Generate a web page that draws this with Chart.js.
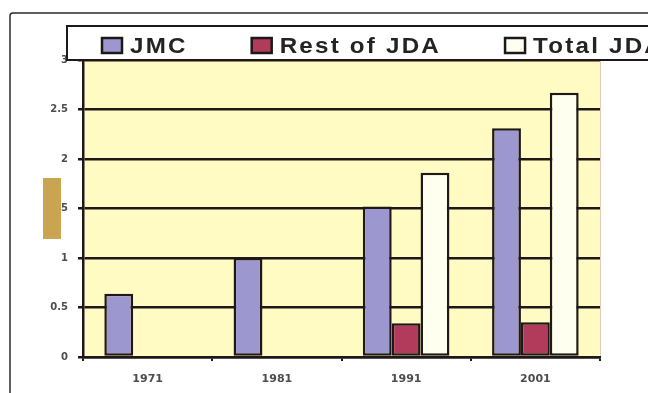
<!DOCTYPE html>
<html>
<head>
<meta charset="utf-8">
<script src="https://cdn.jsdelivr.net/npm/chart.js@4/dist/chart.umd.min.js"></script>
<style>
  html, body { margin: 0; padding: 0; background: #ffffff; }
  #wrap { width: 648px; height: 393px; position: relative; }
</style>
</head>
<body>
<div id="wrap"><canvas id="chart" width="648" height="393"></canvas></div>
<script>
// Population (millions) by census year
const years = ['1971', '1981', '1991', '2001'];
const jmc = [0.64, 1.0, 1.52, 2.31];
const restOfJda = [null, null, 0.34, 0.35];
const totalJda = [null, null, 1.86, 2.67];
const yTicks = [0, 0.5, 1, 1.5, 2, 2.5, 3];

const INK = '#1f1818';

// Pale yellow plot background
const plotBackground = {
  id: 'plotBackground',
  beforeDraw(chart) {
    const { ctx, chartArea: a } = chart;
    ctx.save();
    ctx.fillStyle = '#fffbc2';
    ctx.fillRect(a.left, a.top, a.right - a.left, a.bottom - a.top);
    ctx.strokeStyle = '#e8c8b8';
    ctx.lineWidth = 1;
    ctx.beginPath();
    ctx.moveTo(a.right + 0.5, a.top);
    ctx.lineTo(a.right + 0.5, a.bottom);
    ctx.stroke();
    ctx.restore();
  }
};

// Outer frame, legend box and the tan marker block on the left
const frameAndLegend = {
  id: 'frameAndLegend',
  afterDraw(chart) {
    const { ctx } = chart;
    ctx.save();

    // outer frame (top and left edges)
    ctx.strokeStyle = '#2a2a2a';
    ctx.lineWidth = 1.5;
    ctx.beginPath();
    ctx.moveTo(10, 393);
    ctx.lineTo(10, 16);
    ctx.quadraticCurveTo(10, 13, 13, 13);
    ctx.lineTo(648, 13);
    ctx.stroke();

    // tan block
    ctx.fillStyle = '#c9a451';
    ctx.fillRect(43, 178, 18, 61);

    // legend box
    ctx.fillStyle = '#ffffff';
    ctx.fillRect(67, 26, 600, 34);
    ctx.strokeStyle = INK;
    ctx.lineWidth = 2;
    ctx.beginPath();
    ctx.moveTo(660, 26);
    ctx.lineTo(67, 26);
    ctx.lineTo(67, 60);
    ctx.lineTo(660, 60);
    ctx.stroke();

    // legend items (slightly widened lettering)
    const stretch = 1.1;
    ctx.font = 'bold 22px "Liberation Sans", Arial, sans-serif';
    ctx.textBaseline = 'alphabetic';
    if ('letterSpacing' in ctx) ctx.letterSpacing = '2px';
    let x = 102;
    chart.data.datasets.forEach(ds => {
      ctx.fillStyle = ds.backgroundColor;
      ctx.fillRect(x, 38, 20, 15);
      ctx.strokeStyle = INK;
      ctx.lineWidth = 2.5;
      ctx.strokeRect(x, 38, 20, 15);
      ctx.fillStyle = '#262222';
      const tx = x + 28;
      ctx.save();
      ctx.translate(tx, 53);
      ctx.scale(stretch, 1);
      ctx.fillText(ds.label, 0, 0);
      ctx.restore();
      x = tx + ctx.measureText(ds.label).width * stretch + 64;
    });
    ctx.restore();
  }
};

const barStyle = { borderColor: INK, borderWidth: 2.5, borderSkipped: false };

new Chart(document.getElementById('chart'), {
  type: 'bar',
  data: {
    labels: years,
    datasets: [
      { label: 'JMC', data: jmc, backgroundColor: '#9d97cf', ...barStyle },
      { label: 'Rest of JDA', data: restOfJda, backgroundColor: '#b23a5a', ...barStyle },
      { label: 'Total JDA', data: totalJda, backgroundColor: '#fffff0', ...barStyle }
    ]
  },
  options: {
    responsive: false,
    animation: false,
    devicePixelRatio: 1,
    layout: { padding: { top: 60, right: 48, left: 0, bottom: 0 } },
    datasets: { bar: { categoryPercentage: 0.67, barPercentage: 1.0 } },
    plugins: { legend: { display: false }, tooltip: { enabled: false } },
    scales: {
      x: {
        afterFit(s) { s.height = 36; },
        grid: { drawOnChartArea: false, drawTicks: true, tickLength: 4, color: INK, lineWidth: 2, offset: true },
        border: { display: true, color: INK, width: 2.5 },
        ticks: {
          color: '#4d4d4d',
          padding: 12,
          font: { family: '"DejaVu Sans", sans-serif', size: 11, weight: 'bold' }
        }
      },
      y: {
        min: 0,
        max: 3,
        afterFit(s) { s.width = 83; },
        afterBuildTicks(s) { s.ticks = yTicks.map(v => ({ value: v })); },
        grid: { color: INK, lineWidth: 2.5, tickLength: 5, drawTicks: true },
        border: { display: true, color: INK, width: 2.5 },
        ticks: {
          color: '#4d4d4d',
          padding: 10,
          font: { family: '"DejaVu Sans", sans-serif', size: 10, weight: 'bold' },
          callback: v => String(v)
        }
      }
    }
  },
  plugins: [plotBackground, frameAndLegend]
});
</script>
</body>
</html>
